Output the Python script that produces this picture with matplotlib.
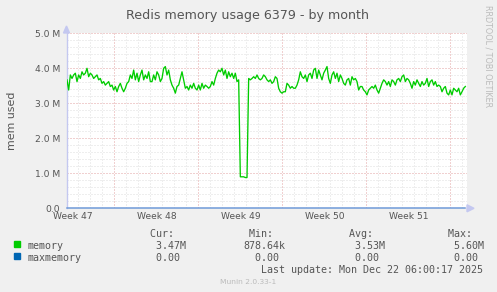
import numpy as np
import matplotlib.pyplot as plt
from matplotlib.patches import Rectangle, Polygon

# memory used (M), one reading every 10/3 h
memory = [
    3.67, 3.38, 3.81, 3.71, 3.81, 3.86, 3.62, 3.81, 3.71, 3.90, 3.81, 3.86, 4.00, 3.76, 3.86, 3.81,
    3.71, 3.76, 3.81, 3.67, 3.71, 3.57, 3.62, 3.52, 3.57, 3.62, 3.48, 3.52, 3.38, 3.48, 3.33, 3.48,
    3.57, 3.43, 3.33, 3.43, 3.57, 3.62, 3.81, 3.71, 3.95, 3.67, 3.86, 3.62, 3.81, 3.95, 3.67, 3.81,
    3.71, 3.90, 3.62, 3.62, 3.81, 3.67, 3.90, 3.81, 3.62,
    3.71, 4.00, 4.05, 3.81, 3.95, 3.67, 3.52, 3.43, 3.29, 3.48, 3.52, 3.71, 3.90, 3.67, 3.43, 3.48,
    3.38, 3.52, 3.43, 3.57, 3.43, 3.38, 3.52, 3.38, 3.57, 3.43, 3.52, 3.48, 3.43, 3.48, 3.62, 3.52,
    3.71, 3.86, 3.95, 3.90, 4.00, 3.81, 3.95, 3.71, 3.90, 3.76, 3.86, 3.71, 3.86, 3.62,
    3.67, 0.90, 0.90, 0.90, 0.879, 0.879, 3.71,
    3.67, 3.71, 3.76, 3.71, 3.81, 3.71, 3.67, 3.71, 3.81, 3.76, 3.67, 3.62, 3.67, 3.57, 3.62, 3.76,
    3.71, 3.43, 3.33, 3.29, 3.33, 3.33, 3.57, 3.52, 3.43, 3.48, 3.43, 3.43, 3.52, 3.67, 3.90, 3.76,
    3.71, 3.81, 3.62, 3.81, 3.86, 3.71, 3.95, 4.00, 3.71, 3.95, 3.81, 3.67, 3.86, 3.95, 4.05, 3.71,
    3.57, 3.81, 3.90, 3.71, 3.86, 3.62, 3.81, 3.71, 3.57, 3.52, 3.67, 3.71, 3.52, 3.76, 3.67, 3.71,
    3.62, 3.38, 3.48,
    3.48, 3.38, 3.33, 3.24, 3.38, 3.43, 3.48, 3.43, 3.52, 3.38, 3.29, 3.43, 3.57, 3.67, 3.62, 3.52,
    3.62, 3.48, 3.67, 3.62, 3.52, 3.67, 3.71, 3.62, 3.76, 3.81, 3.62, 3.71, 3.67, 3.57, 3.43, 3.62,
    3.52, 3.67, 3.57, 3.48, 3.62, 3.52, 3.57, 3.71, 3.48, 3.62, 3.67, 3.52, 3.62, 3.48, 3.52, 3.48,
    3.33, 3.43, 3.48, 3.29, 3.24, 3.38, 3.24, 3.43, 3.38, 3.33, 3.43, 3.24, 3.33, 3.43, 3.48,
]
maxmemory = np.zeros(len(memory))
sample_hours = 10 / 3

week_labels = ['Week 47', 'Week 48', 'Week 49', 'Week 50', 'Week 51']
week_label_days = [0.5, 7.5, 14.5, 21.5, 28.5]
monday_days = [3.92, 10.92, 17.92, 24.92, 31.92]
y_ticks = [0, 1, 2, 3, 4, 5]
y_tick_labels = ['0.0', '1.0 M', '2.0 M', '3.0 M', '4.0 M', '5.0 M']

headers = [' Cur:', ' Min:', ' Avg:', ' Max:']
series_names = ['memory', 'maxmemory']
series_colors = ['#00cc00', '#0066b3']
series_stats = [['  3.47M', '878.64k', '  3.53M', '  5.60M'],
                ['  0.00', '  0.00', '  0.00', '  0.00']]
last_update = 'Last update: Mon Dec 22 06:00:17 2025'

W, H = 497, 292
def fx(px):
    return px / W
def fy(py):
    return 1 - py / H

fig = plt.figure(figsize=(W / 100, H / 100), dpi=100, facecolor='#f0f0f0')
x0, x1, ytop, ybot = 67, 467, 33.3, 208.3
ax = fig.add_axes([fx(x0), fy(ybot), fx(x1) - fx(x0), fy(ytop) - fy(ybot)])
ax.set_facecolor('white')

days = np.arange(len(memory)) * sample_hours / 24
span = (x1 - x0) / 12  # 12 px per day
ax.set_xlim(0, span)
ax.set_ylim(0, 5)

# grid, dotted like rrdtool
dots = dict(lw=0.6, dashes=(1.2, 2.4))
minor_days = np.arange(0.92, span, 1.0)
for d in minor_days:
    ax.axvline(d, color='#d8d8d8', zorder=1, **dots)
for v in np.arange(0.2, 5.01, 0.2):
    ax.axhline(v, color='#d8d8d8', zorder=1, **dots)
for d in monday_days:
    ax.axvline(d, color='#f4a8a8', zorder=2, **dots)
for v in y_ticks[1:]:
    ax.axhline(v, color='#f4a8a8', zorder=2, **dots)

ax.plot(days, maxmemory, color='#6f9ad8', lw=1.1, zorder=3, clip_on=False)
ax.plot(days, memory, color='#00cc00', lw=0.95, zorder=4)

for s in ax.spines.values():
    s.set_visible(False)
ax.spines['left'].set_visible(True)
ax.spines['left'].set_color('#c4c8f0')
ax.spines['left'].set_linewidth(1.0)

ax.set_xticks(week_label_days, week_labels)
ax.set_yticks(y_ticks, y_tick_labels)
ax.tick_params(length=0, labelsize=6.6, colors='#555555')
ax.tick_params(axis='x', pad=3)
ax.tick_params(axis='y', pad=5)
ax.set_ylabel('mem used', fontsize=7.9, color='#555555', labelpad=12.5)

# axis arrows
fig.add_artist(Polygon([[fx(63.5), fy(33)], [fx(69.5), fy(33)], [fx(66.5), fy(26)]],
                       closed=True, color='#c4c8f0', transform=fig.transFigure))
fig.add_artist(Polygon([[fx(467), fy(204.8)], [fx(467), fy(211.8)], [fx(474), fy(208.3)]],
                       closed=True, color='#c4c8f0', transform=fig.transFigure))

fig.text(fx(247.5), fy(18.5), 'Redis memory usage 6379 - by month', ha='center', va='baseline',
         fontsize=9.1, color='#555555')
fig.text(fx(488), fy(56.5), 'RRDTOOL / TOBI OETIKER', ha='center', va='center', rotation=270,
         fontsize=5.8, color='#bbbbbb')

# legend block
mono = dict(family='DejaVu Sans Mono', fontsize=7.2, color='#555555', va='baseline', ha='left')
col_x = [144, 243, 343, 442]
for cx, h in zip(col_x, headers):
    fig.text(fx(cx), fy(236.7), h, **mono)
for i, (name, col, stats) in enumerate(zip(series_names, series_colors, series_stats)):
    base = 248.7 + 12 * i
    fig.add_artist(Rectangle((fx(14), fy(base - 1.5)), fx(6), 6 / H, color=col,
                             transform=fig.transFigure))
    fig.text(fx(27), fy(base), name, **mono)
    for cx, v in zip(col_x, stats):
        fig.text(fx(cx), fy(base), v, **mono)
fig.text(fx(261), fy(272.7), last_update, **mono)
fig.text(fx(248), fy(284.3), 'Munin 2.0.33-1', ha='center', va='baseline', fontsize=5.4,
         color='#bbbbbb')

fig.savefig('out.png', dpi=100, facecolor=fig.get_facecolor())
